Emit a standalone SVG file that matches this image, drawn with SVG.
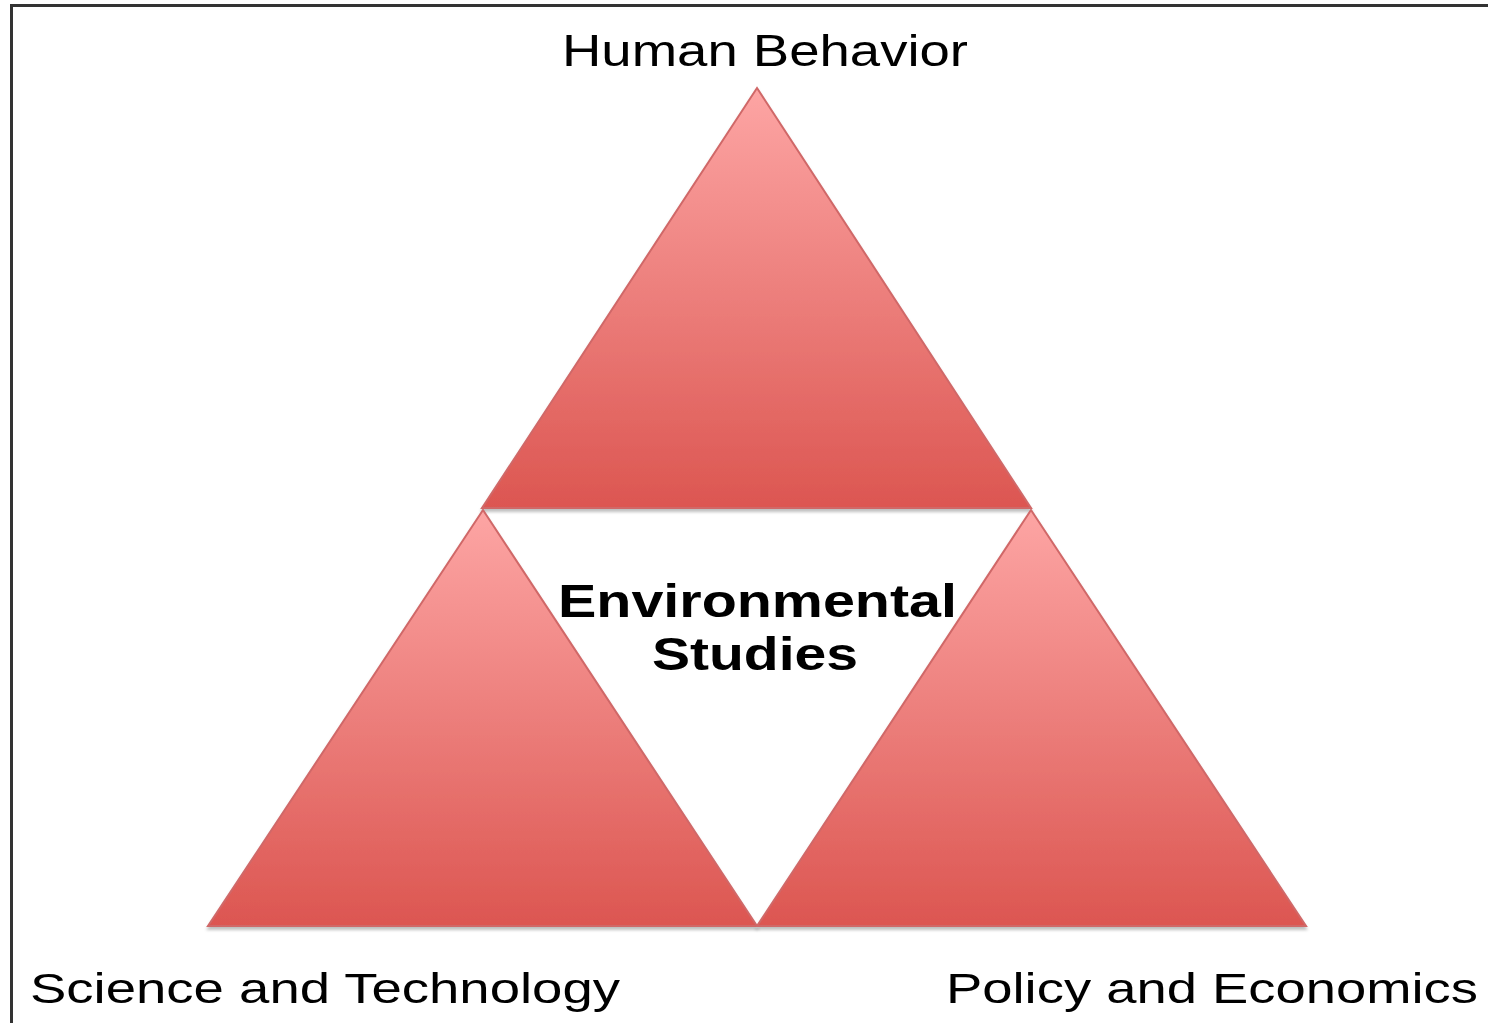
<svg xmlns="http://www.w3.org/2000/svg" width="1488" height="1023" viewBox="0 0 1488 1023">
  <style>
    .tri { fill: url(#redFade); stroke: #d06868; stroke-width: 2; filter: url(#baseShadow); }
    .label { font-family: "Liberation Sans", Arial, sans-serif; fill: #000; }
    .title { font-family: "Liberation Sans", Arial, sans-serif; font-weight: bold; fill: #000; }
  </style>
  <defs>
    <linearGradient id="redFade" x1="0" y1="0" x2="0" y2="1">
      <stop offset="0" stop-color="#fda5a4"/>
      <stop offset="0.5" stop-color="#ec7e7b"/>
      <stop offset="1" stop-color="#dc5651"/>
    </linearGradient>
    <filter id="baseShadow" x="-10%" y="-10%" width="120%" height="125%">
      <feDropShadow dx="0" dy="3" stdDeviation="1.5" flood-color="#000" flood-opacity="0.25"/>
    </filter>
  </defs>

  <rect width="1488" height="1023" fill="#fff"/>
  <!-- frame: only the top and left edges fall inside the canvas -->
  <path d="M11.5 1023 V5.5 H1488" fill="none" stroke="#333" stroke-width="3"/>

  <g id="connectors"/>

  <g id="human-behavior">
    <polygon class="tri" points="757,88 1031,508 482,508"/>
    <text class="label" x="562" y="66" font-size="44" textLength="406" lengthAdjust="spacingAndGlyphs">Human Behavior</text>
  </g>

  <g id="science-technology">
    <polygon class="tri" points="483,510 757,926 208,926"/>
    <text class="label" x="30" y="1003" font-size="43" textLength="590" lengthAdjust="spacingAndGlyphs">Science and Technology</text>
  </g>

  <g id="policy-economics">
    <polygon class="tri" points="1031,510 1306,926 757,926"/>
    <text class="label" x="946" y="1003" font-size="43" textLength="532" lengthAdjust="spacingAndGlyphs">Policy and Economics</text>
  </g>

  <g id="environmental-studies">
    <text class="title" x="558" y="617" font-size="46" textLength="399" lengthAdjust="spacingAndGlyphs">Environmental</text>
    <text class="title" x="652" y="670" font-size="46" textLength="206" lengthAdjust="spacingAndGlyphs">Studies</text>
  </g>
</svg>
